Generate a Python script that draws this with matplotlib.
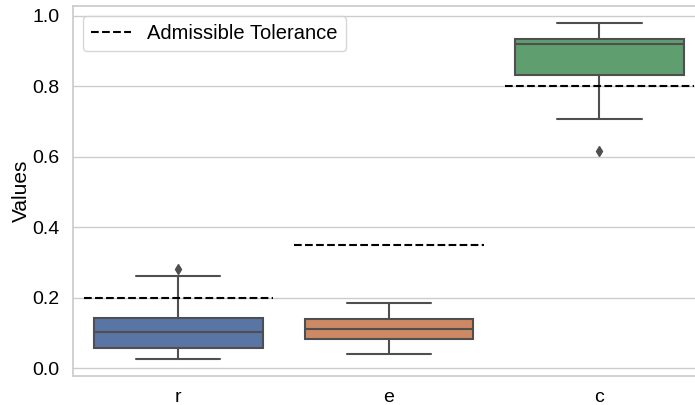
import numpy as np
import matplotlib
matplotlib.use('Agg')
import matplotlib.pyplot as plt
import seaborn as sns

# Box summaries per category
categories = ['r', 'e', 'c']
medians = [0.103, 0.112, 0.919]
q1 = [0.059, 0.083, 0.833]
q3 = [0.144, 0.141, 0.934]
whisker_lo = [0.026, 0.040, 0.706]
whisker_hi = [0.263, 0.186, 0.979]
outliers = [[0.282], [], [0.617]]

# Admissible tolerance per category
tolerance = [0.20, 0.35, 0.80]

sns.set_theme(style='whitegrid')
plt.rcParams['font.family'] = ['Liberation Sans', 'DejaVu Sans']
plt.rcParams['text.color'] = 'black'
plt.rcParams['axes.labelcolor'] = 'black'
plt.rcParams['xtick.color'] = 'black'
plt.rcParams['ytick.color'] = 'black'

fig = plt.figure(figsize=(6.95, 4.05), dpi=100)
ax = fig.add_axes([0.105, 0.0716, 0.909, 0.913])

stats = []
for i, name in enumerate(categories):
    stats.append(dict(label=name, med=medians[i], q1=q1[i], q3=q3[i],
                      whislo=whisker_lo[i], whishi=whisker_hi[i],
                      fliers=outliers[i]))

line_col = '#4f4f4f'
bp = ax.bxp(stats, positions=range(len(categories)), widths=0.8,
            capwidths=0.4, patch_artist=True, showfliers=True,
            boxprops=dict(edgecolor=line_col, linewidth=1.5),
            whiskerprops=dict(color=line_col, linewidth=1.5),
            capprops=dict(color=line_col, linewidth=1.5),
            medianprops=dict(color=line_col, linewidth=1.5),
            flierprops=dict(marker='d', markerfacecolor=line_col,
                            markeredgecolor=line_col, markersize=5))

palette = sns.color_palette('deep', 3)
for patch, col in zip(bp['boxes'], palette):
    patch.set_facecolor(sns.desaturate(col, 0.75))

for i, tol in enumerate(tolerance):
    ax.hlines(tol, i - 0.45, i + 0.45, colors='black', linestyles='--',
              linewidth=1.5, label='Admissible Tolerance' if i == 0 else None)

ax.set_xlim(-0.5, 2.5)
ax.set_xticks(range(len(categories)))
ax.set_xticklabels(categories)
ax.xaxis.grid(False)
ax.set_ylabel('Values', fontsize=15, labelpad=1)
ax.tick_params(labelsize=14)
ax.legend(loc='upper left', fontsize=14.5)

fig.savefig('out.png', dpi=100)
